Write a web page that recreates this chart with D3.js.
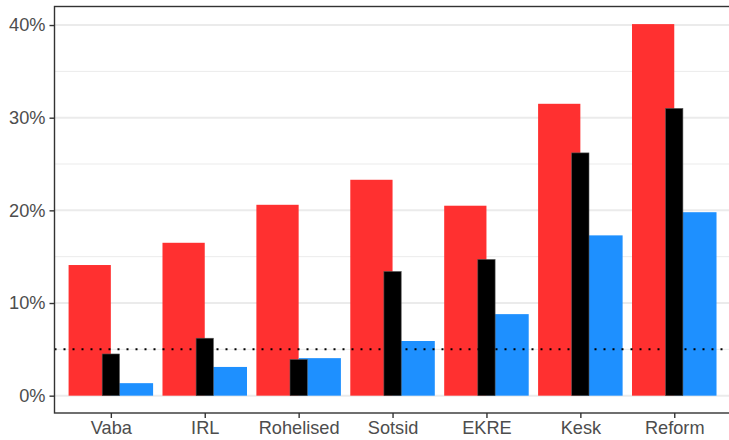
<!DOCTYPE html>
<html>
<head>
<meta charset="utf-8">
<script src="https://cdn.jsdelivr.net/npm/d3@7"></script>
<style>
  body { margin: 0; background: #fff; }
  svg { display: block; }
</style>
</head>
<body>
<div class="chart"></div>
<script>
const parties = ["Vaba", "IRL", "Rohelised", "Sotsid", "EKRE", "Kesk", "Reform"];
const redValues = [14.1, 16.5, 20.6, 23.3, 20.5, 31.5, 40.1];
const blackValues = [4.5, 6.2, 3.9, 13.4, 14.7, 26.2, 31.0];
const blueValues = [1.35, 3.1, 4.05, 5.9, 8.8, 17.3, 19.8];
const yTicks = [0, 10, 20, 30, 40];
const yMinor = [5, 15, 25, 35];
const threshold = 5;

const width = 729,
      height = 440,
      panel = {left: 54.5, top: 6.5, right: 730.6, bottom: 413};

const svg = d3.select(".chart")
  .append("svg")
    .attr("width", width)
    .attr("height", height);

let x = d3.scalePoint()
  .domain(parties)
  .range([panel.left, panel.right])
  .padding(0.6);

let y = d3.scaleLinear()
  .domain([-1.87, 42.0])
  .range([panel.bottom, panel.top]);

const step = x.step(),
      wideW = step * 0.45,
      narrowW = step * 0.184;

// grid
svg.append("g")
    .attr("stroke", "#ebebeb")
  .selectAll("line")
  .data(yMinor)
  .join("line")
    .attr("x1", panel.left).attr("x2", panel.right)
    .attr("y1", d => y(d)).attr("y2", d => y(d))
    .attr("stroke-width", 1);

svg.append("g")
    .attr("stroke", "#ebebeb")
  .selectAll("line")
  .data(yTicks)
  .join("line")
    .attr("x1", panel.left).attr("x2", panel.right)
    .attr("y1", d => y(d)).attr("y2", d => y(d))
    .attr("stroke-width", 2);

// bars
svg.append("g")
    .attr("fill", "#ff3030")
  .selectAll("rect")
  .data(redValues)
  .join("rect")
    .attr("x", (d, i) => x(parties[i]) - wideW)
    .attr("y", d => y(d))
    .attr("width", wideW)
    .attr("height", d => y(0) - y(d));

svg.append("g")
    .attr("fill", "#1e90ff")
  .selectAll("rect")
  .data(blueValues)
  .join("rect")
    .attr("x", (d, i) => x(parties[i]))
    .attr("y", d => y(d))
    .attr("width", wideW)
    .attr("height", d => y(0) - y(d));

svg.append("g")
    .attr("fill", "#000")
    .attr("stroke", "#555")
    .attr("stroke-width", 0.6)
  .selectAll("rect")
  .data(blackValues)
  .join("rect")
    .attr("x", (d, i) => x(parties[i]) - narrowW / 2)
    .attr("y", d => y(d))
    .attr("width", narrowW)
    .attr("height", d => y(0) - y(d));

// 5% threshold
svg.append("line")
    .attr("x1", panel.left).attr("x2", panel.right)
    .attr("y1", y(threshold)).attr("y2", y(threshold))
    .attr("stroke", "#000")
    .attr("stroke-width", 2)
    .attr("stroke-dasharray", "2,7");

// panel border
svg.append("rect")
    .attr("x", panel.left).attr("y", panel.top)
    .attr("width", panel.right - panel.left)
    .attr("height", panel.bottom - panel.top)
    .attr("fill", "none")
    .attr("stroke", "#333")
    .attr("stroke-width", 1.4);

// axes
const yAxis = svg.append("g")
    .attr("transform", `translate(${panel.left},0)`)
    .call(d3.axisLeft(y).tickValues(yTicks).tickFormat(d => d + "%").tickSize(5).tickPadding(4));

const xAxis = svg.append("g")
    .attr("transform", `translate(0,${panel.bottom})`)
    .call(d3.axisBottom(x).tickSize(5).tickPadding(3));

[yAxis, xAxis].forEach(a => {
  a.select(".domain").remove();
  a.selectAll(".tick line").attr("stroke", "#333").attr("stroke-width", 1.4);
  a.selectAll(".tick text")
    .attr("fill", "#4d4d4d")
    .attr("font-family", "Liberation Sans, Arial, sans-serif")
    .attr("font-size", 18.2);
});
</script>
</body>
</html>
